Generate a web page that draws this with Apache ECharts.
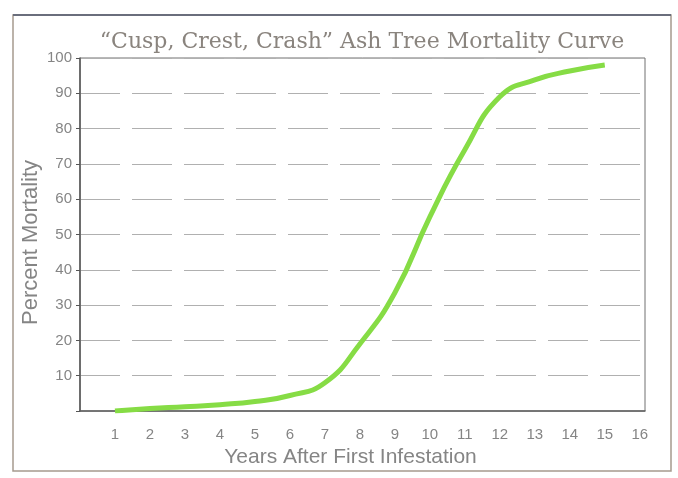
<!DOCTYPE html>
<html>
<head>
<meta charset="utf-8">
<script src="https://cdn.jsdelivr.net/npm/echarts@6/dist/echarts.min.js"></script>
<style>html,body{margin:0;padding:0;background:#fff;}#c{width:678px;height:478px;}</style>
</head>
<body>
<div id="c"></div>
<script>
const titleText = '\u201cCusp, Crest, Crash\u201d Ash Tree Mortality Curve';
const xAxisName = 'Years After First Infestation';
const yAxisName = 'Percent Mortality';
const years = [1, 2, 3, 4, 5, 6, 7, 8, 9, 10, 11, 12, 13, 14, 15];
const mortality = [0, 0.7, 1.2, 1.8, 2.7, 4.4, 8, 19, 33.5, 55, 74, 89, 93.8, 96.3, 98];

const chart = echarts.init(document.getElementById('c'), null, {renderer: 'canvas'});
chart.setOption({
  backgroundColor: '#ffffff',
  animation: false,
  graphic: [
    {type: 'rect', shape: {x: 13, y: 15, width: 658, height: 456}, style: {fill: 'none', stroke: '#a69a8e', lineWidth: 1.5}, z: 0},
    {type: 'line', shape: {x1: 13, y1: 15, x2: 671, y2: 15}, style: {stroke: '#6a6e7c', lineWidth: 2}, z: 0}
  ],
  title: {
    text: titleText,
    left: 357, top: 26, textAlign: 'center',
    textStyle: {fontFamily: 'DejaVu Serif', fontSize: 22, fontWeight: 'normal', color: '#8a847e'}
  },
  grid: {left: 80, right: 33, top: 58, bottom: 67, show: true, borderColor: '#707070', borderWidth: 1},
  xAxis: {
    type: 'value', min: 0, max: 16.15, interval: 1,
    name: xAxisName, nameLocation: 'middle', nameGap: 33,
    nameTextStyle: {fontFamily: 'Liberation Sans', fontSize: 21, color: '#858585', padding: [0, 24, 0, 0]},
    axisLine: {show: true, lineStyle: {color: '#606060', width: 1.5}},
    axisTick: {show: false},
    splitLine: {show: false},
    axisLabel: {
      margin: 16, fontFamily: 'Liberation Sans', fontSize: 15, color: '#858585',
      formatter: v => (Number.isInteger(v) && v > 0) ? String(v) : ''
    }
  },
  yAxis: {
    type: 'value', min: 0, max: 100, interval: 10,
    name: yAxisName, nameLocation: 'middle', nameGap: 38, nameMoveOverlap: false,
    nameTextStyle: {fontFamily: 'Liberation Sans', fontSize: 22, color: '#858585', padding: [0, 16, 0, 0]},
    axisLine: {show: true, lineStyle: {color: '#555', width: 1.5}},
    axisTick: {show: true, length: 4, lineStyle: {color: '#555'}},
    splitLine: {show: true, lineStyle: {color: '#b0b0b0', width: 1, type: [40, 12]}},
    axisLabel: {
      margin: 8, fontFamily: 'Liberation Sans', fontSize: 15, color: '#858585',
      formatter: v => v === 0 ? '' : String(v)
    }
  },
  series: [{
    type: 'line',
    data: years.map((y, i) => [y, mortality[i]]),
    smooth: 0.5,
    showSymbol: false,
    lineStyle: {color: '#86dc45', width: 5},
    z: 5
  }]
});
</script>
</body>
</html>
